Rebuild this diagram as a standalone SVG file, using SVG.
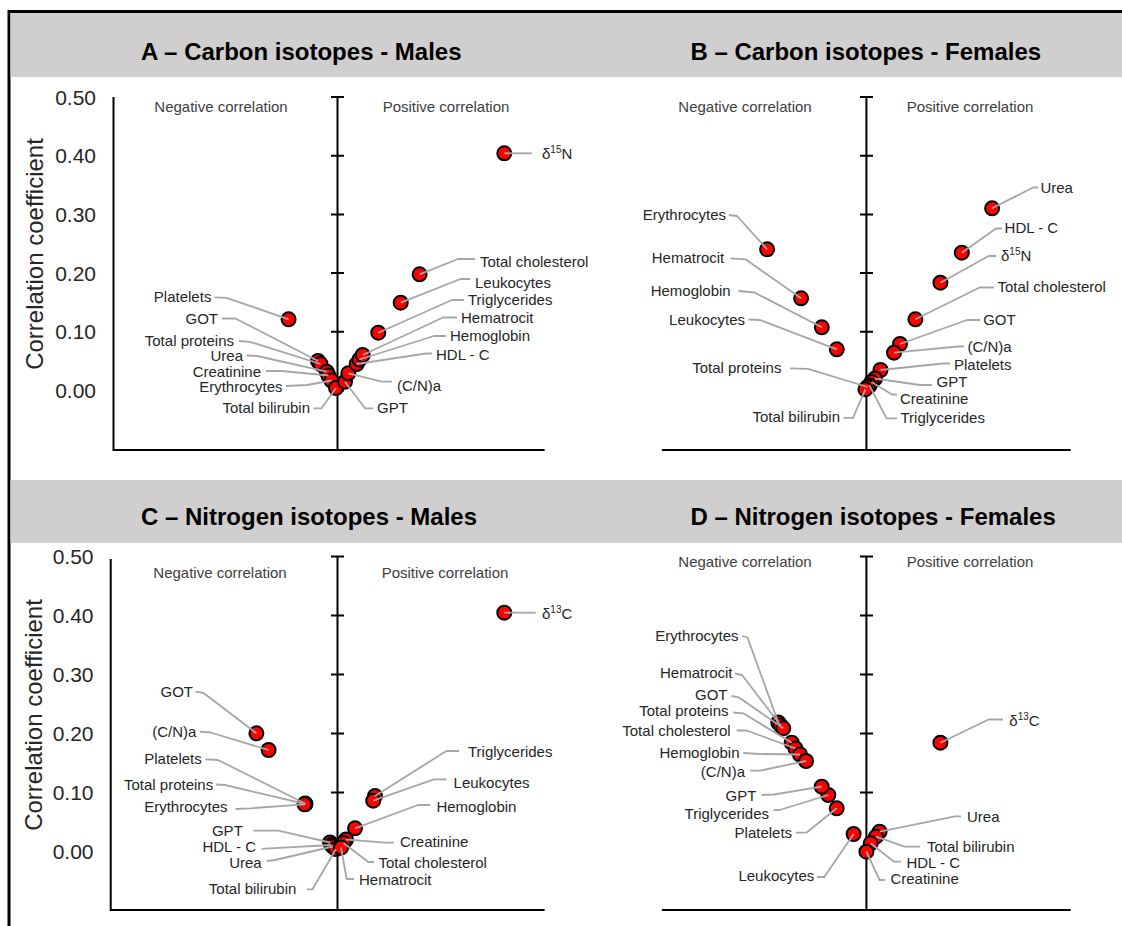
<svg xmlns="http://www.w3.org/2000/svg" width="1122" height="926" viewBox="0 0 1122 926">
<style>
text{font-family:"Liberation Sans",Arial,sans-serif;fill:#262626}
.hdr{fill:#d0cece}
.title{font-size:24px;font-weight:bold;fill:#000}
.ax{stroke:#000;stroke-width:2;fill:none}
.tl{font-size:21px;text-anchor:end}
.yl{font-size:24px;text-anchor:middle}
.cor{font-size:15px;text-anchor:middle;fill:#404040}
.lbl{font-size:15px}
.e{text-anchor:end}
.sup{font-size:10px}
circle{fill:#ff0000;stroke:#000;stroke-width:2}
#connectors polyline{fill:none;stroke:#a6a6a6;stroke-width:1.8;stroke-linejoin:round}
</style>
<rect width="1122" height="926" fill="#fff"/>
<path d="M9,926V11.5H1122" fill="none" stroke="#000" stroke-width="3"/>

<g id="panelA">
<rect class="hdr" x="10.5" y="13" width="550" height="64"/>
<text class="title" x="141" y="60">A – Carbon isotopes - Males</text>
<text class="yl" transform="translate(42.5,254) rotate(-90)">Correlation coefficient</text>
<g class="tl"><text x="96" y="104.5">0.50</text><text x="96" y="163.2">0.40</text><text x="96" y="222">0.30</text><text x="96" y="280.6">0.20</text><text x="96" y="339.3">0.10</text><text x="96" y="398">0.00</text></g>
<path class="ax" d="M113.5,97V451M112.5,450H544.6M337.5,97V450M331,97H344M331,155.7H344M331,214.4H344M331,273.1H344M331,331.8H344M331,390.5H344"/>
<text class="cor" x="221" y="112">Negative correlation</text>
<text class="cor" x="446" y="112">Positive correlation</text>
</g>

<g id="panelB">
<rect class="hdr" x="560" y="13" width="562" height="64"/>
<text class="title" x="690.4" y="60">B – Carbon isotopes - Females</text>
<path class="ax" d="M661.8,450H1070.7M866.4,97V450M860,97H873M860,155.7H873M860,214.4H873M860,273.1H873M860,331.8H873M860,390.5H873"/>
<text class="cor" x="745" y="112">Negative correlation</text>
<text class="cor" x="970" y="112">Positive correlation</text>
</g>

<g id="panelC">
<rect class="hdr" x="10.5" y="480" width="550" height="63"/>
<text class="title" x="141" y="525">C – Nitrogen isotopes - Males</text>
<text class="yl" transform="translate(42,715) rotate(-90)">Correlation coefficient</text>
<g class="tl"><text x="93.5" y="564">0.50</text><text x="93.5" y="623">0.40</text><text x="93.5" y="682">0.30</text><text x="93.5" y="741">0.20</text><text x="93.5" y="800">0.10</text><text x="93.5" y="859">0.00</text></g>
<path class="ax" d="M110.7,559V911M110,910H544.6M337.5,556.5V910M331,556.5H344M331,615.5H344M331,674.5H344M331,733.5H344M331,792.5H344M331,851.5H344"/>
<text class="cor" x="220" y="578">Negative correlation</text>
<text class="cor" x="445" y="578">Positive correlation</text>
</g>

<g id="panelD">
<rect class="hdr" x="560" y="480" width="562" height="63"/>
<text class="title" x="690.4" y="525">D – Nitrogen isotopes - Females</text>
<path class="ax" d="M661.8,910H1070.7M866.4,556.5V910M860,556.5H873M860,615.5H873M860,674.5H873M860,733.5H873M860,792.5H873M860,851.5H873"/>
<text class="cor" x="745" y="567">Negative correlation</text>
<text class="cor" x="970" y="567">Positive correlation</text>
</g>

<!-- Panel A nodes -->
<g id="a-d15n"><circle cx="504.3" cy="153.3" r="7"/><text class="lbl" x="542" y="159">δ<tspan class="sup" dy="-6">15</tspan><tspan dy="6">N</tspan></text></g>
<g id="a-tchol"><circle cx="419.6" cy="274.3" r="7"/><text class="lbl" x="480" y="266.5">Total cholesterol</text></g>
<g id="a-leuk"><circle cx="400.7" cy="302.7" r="7"/><text class="lbl" x="475" y="287.5">Leukocytes</text></g>
<g id="a-trig"><circle cx="378.3" cy="332.7" r="7"/><text class="lbl" x="468" y="305">Triglycerides</text></g>
<g id="a-plat"><circle cx="288.6" cy="319.3" r="7"/><text class="lbl e" x="211.4" y="302.3">Platelets</text></g>
<g id="a-got"><circle cx="318" cy="361" r="7"/><text class="lbl e" x="218" y="324">GOT</text></g>
<g id="a-tprot"><circle cx="320.5" cy="364" r="7"/><text class="lbl e" x="234" y="345.7">Total proteins</text></g>
<g id="a-urea"><circle cx="326.7" cy="371.7" r="7"/><text class="lbl e" x="243" y="361">Urea</text></g>
<g id="a-creat"><circle cx="328.5" cy="375.5" r="7"/><text class="lbl e" x="261" y="376.5">Creatinine</text></g>
<g id="a-eryth"><circle cx="331.5" cy="380.5" r="7"/><text class="lbl e" x="282.5" y="391.5">Erythrocytes</text></g>
<g id="a-tbil"><circle cx="336" cy="388" r="7"/><text class="lbl e" x="310" y="413.3">Total bilirubin</text></g>
<g id="a-gpt"><circle cx="345" cy="381.7" r="7"/><text class="lbl" x="377" y="413.3">GPT</text></g>
<g id="a-cna"><circle cx="348.3" cy="373.3" r="7"/><text class="lbl" x="397" y="391">(C/N)a</text></g>
<g id="a-hdl"><circle cx="356.7" cy="364" r="7"/><text class="lbl" x="436" y="360">HDL - C</text></g>
<g id="a-hemog"><circle cx="359.5" cy="359.5" r="7"/><text class="lbl" x="450" y="341">Hemoglobin</text></g>
<g id="a-hemat"><circle cx="362.7" cy="355" r="7"/><text class="lbl" x="461" y="322.5">Hematrocit</text></g>

<!-- Panel B nodes -->
<g id="b-urea"><circle cx="992.1" cy="208.3" r="7"/><text class="lbl" x="1040.4" y="193.3">Urea</text></g>
<g id="b-hdl"><circle cx="961.8" cy="252.7" r="7"/><text class="lbl" x="1004.6" y="233.3">HDL - C</text></g>
<g id="b-d15n"><circle cx="940.4" cy="282.7" r="7"/><text class="lbl" x="1001" y="261">δ<tspan class="sup" dy="-6">15</tspan><tspan dy="6">N</tspan></text></g>
<g id="b-tchol"><circle cx="915.4" cy="319.3" r="7"/><text class="lbl" x="997.5" y="292.3">Total cholesterol</text></g>
<g id="b-got"><circle cx="900" cy="344" r="7"/><text class="lbl" x="983.2" y="325">GOT</text></g>
<g id="b-cna"><circle cx="894" cy="352.7" r="7"/><text class="lbl" x="967.5" y="351.5">(C/N)a</text></g>
<g id="b-plat"><circle cx="880.5" cy="370" r="7"/><text class="lbl" x="954" y="369.5">Platelets</text></g>
<g id="b-gpt"><circle cx="875" cy="378.5" r="7"/><text class="lbl" x="936.5" y="386.7">GPT</text></g>
<g id="b-creat"><circle cx="871.5" cy="382" r="7"/><text class="lbl" x="900" y="404.3">Creatinine</text></g>
<g id="b-trig"><circle cx="869.5" cy="385.5" r="7"/><text class="lbl" x="900.5" y="423.3">Triglycerides</text></g>
<g id="b-tprot"><circle cx="867.5" cy="387" r="7"/><text class="lbl e" x="781.4" y="373.3">Total proteins</text></g>
<g id="b-tbil"><circle cx="865.4" cy="389.3" r="7"/><text class="lbl e" x="840" y="422.3">Total bilirubin</text></g>
<g id="b-eryth"><circle cx="767.1" cy="249.3" r="7"/><text class="lbl e" x="726" y="220">Erythrocytes</text></g>
<g id="b-hemat"><circle cx="801.1" cy="298.3" r="7"/><text class="lbl e" x="724.3" y="263.3">Hematrocit</text></g>
<g id="b-hemog"><circle cx="821.8" cy="327.3" r="7"/><text class="lbl e" x="730.7" y="296">Hemoglobin</text></g>
<g id="b-leuk"><circle cx="836.8" cy="349.3" r="7"/><text class="lbl e" x="745" y="325">Leukocytes</text></g>

<!-- Panel C nodes -->
<g id="c-d13c"><circle cx="504.3" cy="612.7" r="7"/><text class="lbl" x="542" y="618.5">δ<tspan class="sup" dy="-6">13</tspan><tspan dy="6">C</tspan></text></g>
<g id="c-got"><circle cx="256.4" cy="733.3" r="7"/><text class="lbl e" x="193" y="696.5">GOT</text></g>
<g id="c-cna"><circle cx="268.6" cy="750" r="7"/><text class="lbl e" x="196.4" y="736.7">(C/N)a</text></g>
<g id="c-plat"><circle cx="305" cy="803.5" r="7"/><text class="lbl e" x="201.8" y="764.3">Platelets</text></g>
<g id="c-tprot"><circle cx="305.5" cy="804" r="7"/><text class="lbl e" x="213.2" y="790">Total proteins</text></g>
<g id="c-eryth"><circle cx="304.5" cy="804.3" r="7"/><text class="lbl e" x="227.5" y="811.7">Erythrocytes</text></g>
<g id="c-gpt"><circle cx="330" cy="842.5" r="7"/><text class="lbl e" x="242.8" y="836">GPT</text></g>
<g id="c-hdl"><circle cx="331.5" cy="845" r="7"/><text class="lbl e" x="256" y="852.2">HDL - C</text></g>
<g id="c-urea"><circle cx="333" cy="846.5" r="7"/><text class="lbl e" x="261.7" y="867.5">Urea</text></g>
<g id="c-tbil"><circle cx="336" cy="849" r="7"/><text class="lbl e" x="296.4" y="894.3">Total bilirubin</text></g>
<g id="c-trig"><circle cx="375" cy="796" r="7"/><text class="lbl" x="468" y="756.7">Triglycerides</text></g>
<g id="c-leuk"><circle cx="373.2" cy="800.7" r="7"/><text class="lbl" x="453.6" y="787.7">Leukocytes</text></g>
<g id="c-hemog"><circle cx="355" cy="828.3" r="7"/><text class="lbl" x="436.4" y="812.3">Hemoglobin</text></g>
<g id="c-creat"><circle cx="346" cy="839.5" r="7"/><text class="lbl" x="400" y="847.3">Creatinine</text></g>
<g id="c-tchol"><circle cx="343.5" cy="843" r="7"/><text class="lbl" x="378.5" y="868.3">Total cholesterol</text></g>
<g id="c-hemat"><circle cx="341" cy="847.5" r="7"/><text class="lbl" x="359" y="885">Hematrocit</text></g>

<!-- Panel D nodes -->
<g id="d-d13c"><circle cx="940.4" cy="742.7" r="7"/><text class="lbl" x="1009.3" y="725.7">δ<tspan class="sup" dy="-6">13</tspan><tspan dy="6">C</tspan></text></g>
<g id="d-urea"><circle cx="879.6" cy="831.7" r="7"/><text class="lbl" x="967" y="821.7">Urea</text></g>
<g id="d-tbil"><circle cx="876" cy="836.7" r="7"/><text class="lbl" x="927" y="852.3">Total bilirubin</text></g>
<g id="d-hdl"><circle cx="870.7" cy="843.3" r="7"/><text class="lbl" x="906.4" y="867.7">HDL - C</text></g>
<g id="d-creat"><circle cx="866.4" cy="851.7" r="7"/><text class="lbl" x="890.4" y="884.3">Creatinine</text></g>
<g id="d-leuk"><circle cx="853.6" cy="834" r="7"/><text class="lbl e" x="814.3" y="881">Leukocytes</text></g>
<g id="d-plat"><circle cx="836.7" cy="808.3" r="7"/><text class="lbl e" x="792.1" y="838.3">Platelets</text></g>
<g id="d-trig"><circle cx="828.3" cy="795" r="7"/><text class="lbl e" x="769" y="819">Triglycerides</text></g>
<g id="d-gpt"><circle cx="821.7" cy="786.7" r="7"/><text class="lbl e" x="756.4" y="801">GPT</text></g>
<g id="d-eryth"><circle cx="778.3" cy="722.5" r="7"/><text class="lbl e" x="738.6" y="640.7">Erythrocytes</text></g>
<g id="d-hemat"><circle cx="780.5" cy="725.3" r="7"/><text class="lbl e" x="732.5" y="678.3">Hematrocit</text></g>
<g id="d-got"><circle cx="783.3" cy="728.3" r="7"/><text class="lbl e" x="727.5" y="700">GOT</text></g>
<g id="d-tprot"><circle cx="791.7" cy="742.7" r="7"/><text class="lbl e" x="728.5" y="715.7">Total proteins</text></g>
<g id="d-tchol"><circle cx="795.5" cy="748.5" r="7"/><text class="lbl e" x="730.7" y="735.7">Total cholesterol</text></g>
<g id="d-hemog"><circle cx="800" cy="754.5" r="7"/><text class="lbl e" x="739.5" y="757.7">Hemoglobin</text></g>
<g id="d-cna"><circle cx="806" cy="761" r="7"/><text class="lbl e" x="745" y="776.5">(C/N)a</text></g>

<g id="connectors">
<polyline points="504.3,153.3 532,153.3"/>
<polyline points="419.6,274.3 458,259 475,259"/>
<polyline points="400.7,302.7 460.5,279 470,279"/>
<polyline points="378.3,332.7 452,300 464,300"/>
<polyline points="362.7,355 443,317.5 457,317.5"/>
<polyline points="359.5,359.5 434,336 446,336"/>
<polyline points="356.7,364 426,353.5 432,353.5"/>
<polyline points="348.3,373.3 382,381.7 392,381.7"/>
<polyline points="345,381.7 365,408.3 373,408.3"/>
<polyline points="214.5,297.3 226.5,297.8 288.6,319.3"/>
<polyline points="222,318.5 235.5,318.5 318,361"/>
<polyline points="239,341 250,341.8 320.5,364"/>
<polyline points="246.5,355.5 257,356 326.7,371.7"/>
<polyline points="266,371 282,371 328.5,375.5"/>
<polyline points="286,386 307,385 331.5,380.5"/>
<polyline points="313.5,408.3 321.5,408.3 336,388"/>

<polyline points="992.1,208.3 1033,187.5 1038,187.5"/>
<polyline points="961.8,252.7 996,228.5 1002,228.5"/>
<polyline points="940.4,282.7 988.6,256 996,256"/>
<polyline points="915.4,319.3 979.6,287.5 994,287.5"/>
<polyline points="900,344 967,320 980,320"/>
<polyline points="894,352.7 958,346.5 964,346.5"/>
<polyline points="880.5,370 943,363.5 950,363.5"/>
<polyline points="875,378.5 920,385 932,385"/>
<polyline points="871.5,382 892,394.5 897,394.5"/>
<polyline points="869.5,385.5 886.5,418.3 897,418.3"/>
<polyline points="843.5,417.8 853,417.8 865.4,389.3"/>
<polyline points="790,368.3 808,368.8 867.5,387"/>
<polyline points="729,215 737,216 767.1,249.3"/>
<polyline points="730.5,258.3 745.5,259.3 801.1,298.3"/>
<polyline points="738.5,291 754.5,292.5 821.8,327.3"/>
<polyline points="748.5,319.5 760,320 836.8,349.3"/>

<polyline points="504.3,612.7 535.7,612.7"/>
<polyline points="195.5,691.7 203.5,693 256.4,733.3"/>
<polyline points="200,731.7 210.7,732.5 268.6,750"/>
<polyline points="205.5,759.3 218,760 305,803.5"/>
<polyline points="216,784.5 225,785 305.5,804"/>
<polyline points="235.5,809 250,808.3 304.5,804.3"/>
<polyline points="253.3,830.7 278.3,830.7 330,842.5"/>
<polyline points="261.7,848.8 270,848.3 331.5,845"/>
<polyline points="266.7,861 275,860 333,846.5"/>
<polyline points="307,889.3 312.5,889.3 336,849"/>
<polyline points="375,796 446.4,751 459,751"/>
<polyline points="373.2,800.7 434,779.3 446.4,779.3"/>
<polyline points="355,828.3 418,805 430.4,805"/>
<polyline points="346,839.5 385,842.7 394,842.7"/>
<polyline points="343.5,843 368.3,862 374,862"/>
<polyline points="341,847.5 346.7,879 354,879"/>

<polyline points="940.4,742.7 988.6,719.5 1003,719.5"/>
<polyline points="879.6,831.7 955,816.3 961,816.3"/>
<polyline points="876,836.7 904.6,846.7 920,846.7"/>
<polyline points="870.7,843.3 894,861.7 901,861.7"/>
<polyline points="866.4,851.7 879.6,880 885,880"/>
<polyline points="817,877 824.3,877 853.6,834"/>
<polyline points="795.7,832.7 806.4,832.7 836.7,808.3"/>
<polyline points="773.6,810 779.6,810 828.3,795"/>
<polyline points="761.7,795 774,794.5 821.7,786.7"/>
<polyline points="750,770.7 760,770.7 806,761"/>
<polyline points="743.3,753 760,754 800,754.5"/>
<polyline points="736.7,730.5 746.7,730.5 795.5,748.5"/>
<polyline points="733.3,712.5 743.3,713.3 791.7,742.7"/>
<polyline points="731.4,696 738.6,697.3 783.3,728.3"/>
<polyline points="735,673.5 742,675 780.5,725.3"/>
<polyline points="742,636 747.5,637.5 778.3,722.5"/>
</g>
</svg>
